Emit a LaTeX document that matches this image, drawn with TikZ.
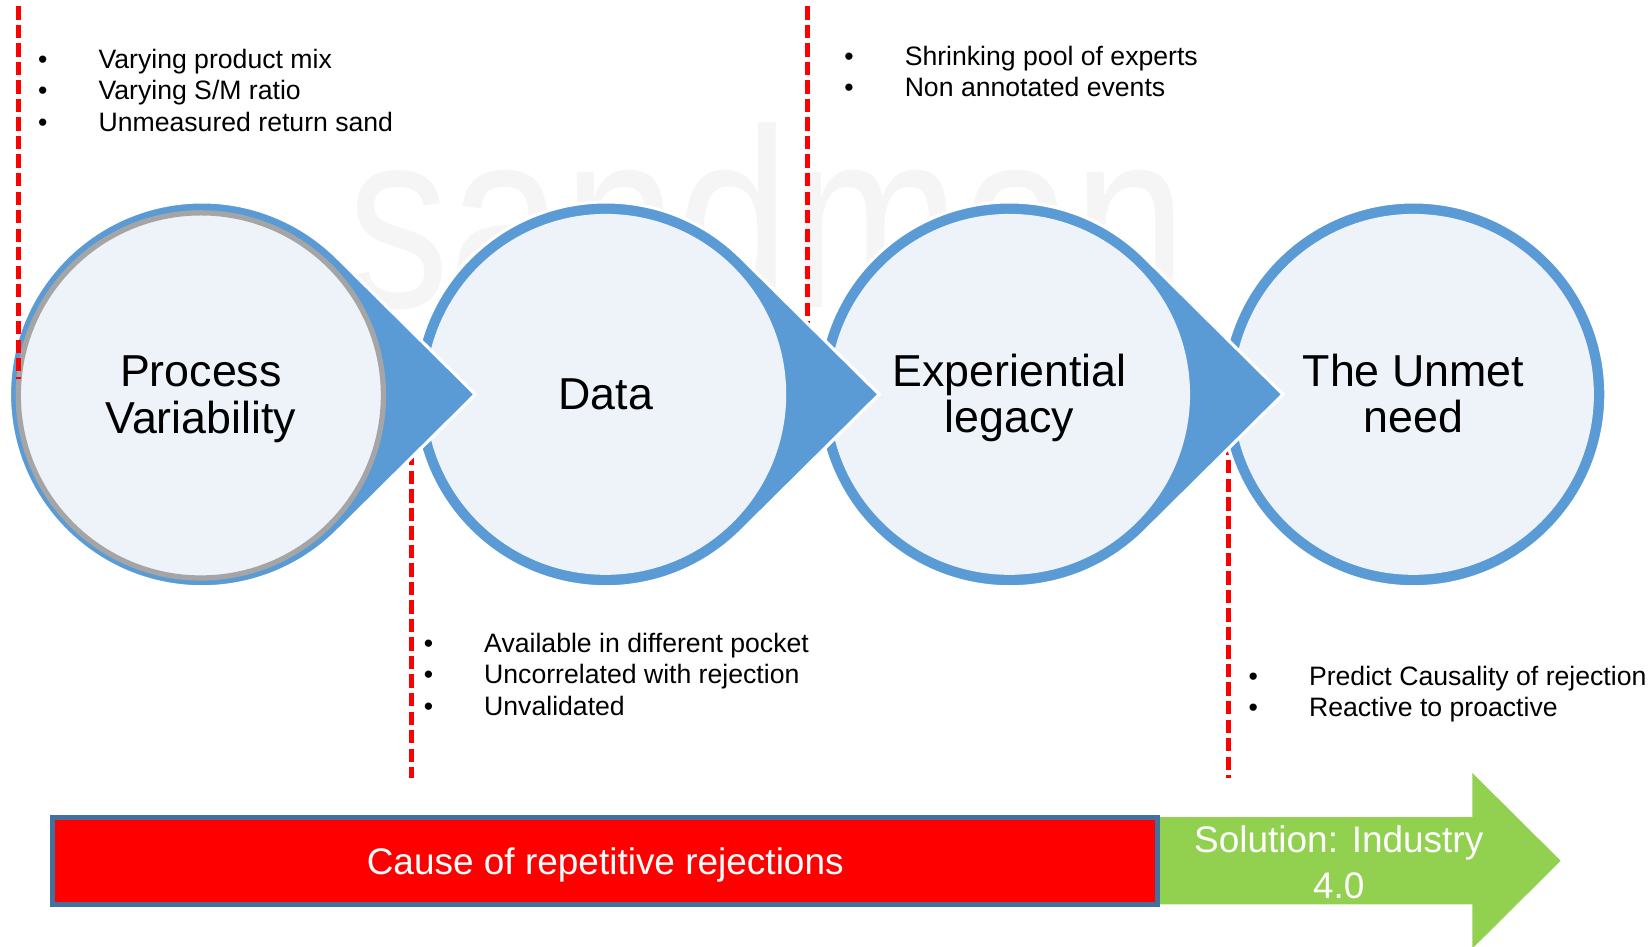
\documentclass[tikz,border=0pt]{standalone}
\usepackage{fontspec}
\setmainfont{Liberation Sans}
\definecolor{ringblue}{HTML}{5B9BD5}
\definecolor{discfill}{HTML}{EEF3FA}
\definecolor{discgrey}{HTML}{A5A5A5}
\definecolor{barred}{HTML}{FF0000}
\definecolor{barframe}{HTML}{41719C}
\definecolor{gogreen}{HTML}{92D050}
\definecolor{wmgrey}{HTML}{F5F5F5}
\tikzset{
  % blue drop: a circle with a pointed tip on its right side
  teardrop/.pic={
    \fill[ringblue, draw=white, line width=0.03cm]
      (260,0) -- (128.8,130) arc[start angle=45.27, end angle=314.73, radius=183] -- cycle;
  },
  plainring/.pic={
    \fill[ringblue, draw=white, line width=0.03cm] (0,0) circle[radius=183];
  },
  discnode/.style={circle, fill=discfill, minimum size=3.43cm, inner sep=0pt},
  bigtext/.style={font=\fontsize{12.1}{12.6}\selectfont, align=center, inner sep=0pt},
  bul/.style={anchor=base west, inner sep=0pt, font=\fontsize{7.2}{8.5}\selectfont},
  cutline/.style={draw=barred, line width=0.044cm, dash pattern=on 0.126cm off 0.05cm},
  bartext/.style={text=white, font=\fontsize{10}{12.35}\selectfont, align=center, inner sep=0pt},
}
\newcommand{\bitem}[1]{\makebox[0.574cm][l]{\textbullet}#1}
\begin{document}
\begin{tikzpicture}[x=0.01cm, y=-0.01cm]
\useasboundingbox (0,0) rectangle (1568,900);

% faint watermark
\node[font=\fontsize{69}{69}\selectfont, text=wmgrey, xscale=0.8, anchor=base, inner sep=0pt] (wm) at (730,292) {sandman};

% dashed separators that tuck under the drops
\coordinate (dB1) at (391.4,430); \coordinate (dB2) at (391.4,740);
\coordinate (dC1) at (767.8,6);   \coordinate (dC2) at (767.8,312);
\coordinate (dD1) at (1168,420);  \coordinate (dD2) at (1168,740);
\draw[cutline] (dB1) -- (dB2);
\draw[cutline] (dC1) -- (dC2);
\draw[cutline] (dD1) -- (dD2);

% drops, drawn right to left so each tip lies over the next circle
\pic (s4) at (1344,375) {plainring};
\node[discnode] (c4) at (1344,375) {};
\node[bigtext] (t4) at (1344,374) {The Unmet\\need};

\pic (s3) at (960,375) {teardrop};
\node[discnode] (c3) at (960,375) {};
\node[bigtext] (t3) at (960,378.5) {Experiential\\legacy};

\pic (s2) at (576,375) {teardrop};
\node[discnode] (c2) at (576,375) {};
\node[bigtext] (t2) at (576,375) {Data};

\pic (s1) at (192,375) {teardrop};
\node[discnode, draw=discgrey, line width=0.05cm, minimum size=3.47cm] (c1) at (191,376) {};
\node[bigtext] (t1) at (191,379.5) {Process\\Variability};

% left separator runs over the first drop
\coordinate (dA1) at (17.5,6); \coordinate (dA2) at (17.5,360);
\draw[cutline] (dA1) -- (dA2);

% bullet lists
\node[bul] (l1a) at (35.6,65)  {\bitem{Varying product mix}};
\node[bul] (l1b) at (35.6,95)  {\bitem{Varying S/M ratio}};
\node[bul] (l1c) at (35.6,125) {\bitem{Unmeasured return sand}};

\node[bul] (l2a) at (802.2,62) {\bitem{Shrinking pool of experts}};
\node[bul] (l2b) at (802.2,92) {\bitem{Non annotated events}};

\node[bul] (l3a) at (402.3,620) {\bitem{Available in different pocket}};
\node[bul] (l3b) at (402.3,650) {\bitem{Uncorrelated with rejection}};
\node[bul] (l3c) at (402.3,680) {\bitem{Unvalidated}};

\node[bul] (l4a) at (1186.6,651.5) {\bitem{Predict Causality of rejection}};
\node[bul] (l4b) at (1186.6,681)   {\bitem{Reactive to proactive}};

% green arrow
\coordinate (g1) at (1090,777); \coordinate (g2) at (1400,777);
\coordinate (g3) at (1400,735); \coordinate (g4) at (1484,818.5);
\coordinate (g5) at (1400,902); \coordinate (g6) at (1400,860);
\coordinate (g7) at (1090,860);
\fill[gogreen] (g1) -- (g2) -- (g3) -- (g4) -- (g5) -- (g6) -- (g7) -- cycle;
\node[bartext] (sol) at (1273,820) {Solution: Industry\\4.0};

% red bar
\coordinate (r1) at (49.5,777.7); \coordinate (r2) at (1101,859.7);
\draw[fill=barred, draw=barframe, line width=0.047cm] (r1) rectangle (r2);
\node[bartext, anchor=base] (cause) at (575.5,832) {Cause of repetitive rejections};
\end{tikzpicture}
\end{document}
